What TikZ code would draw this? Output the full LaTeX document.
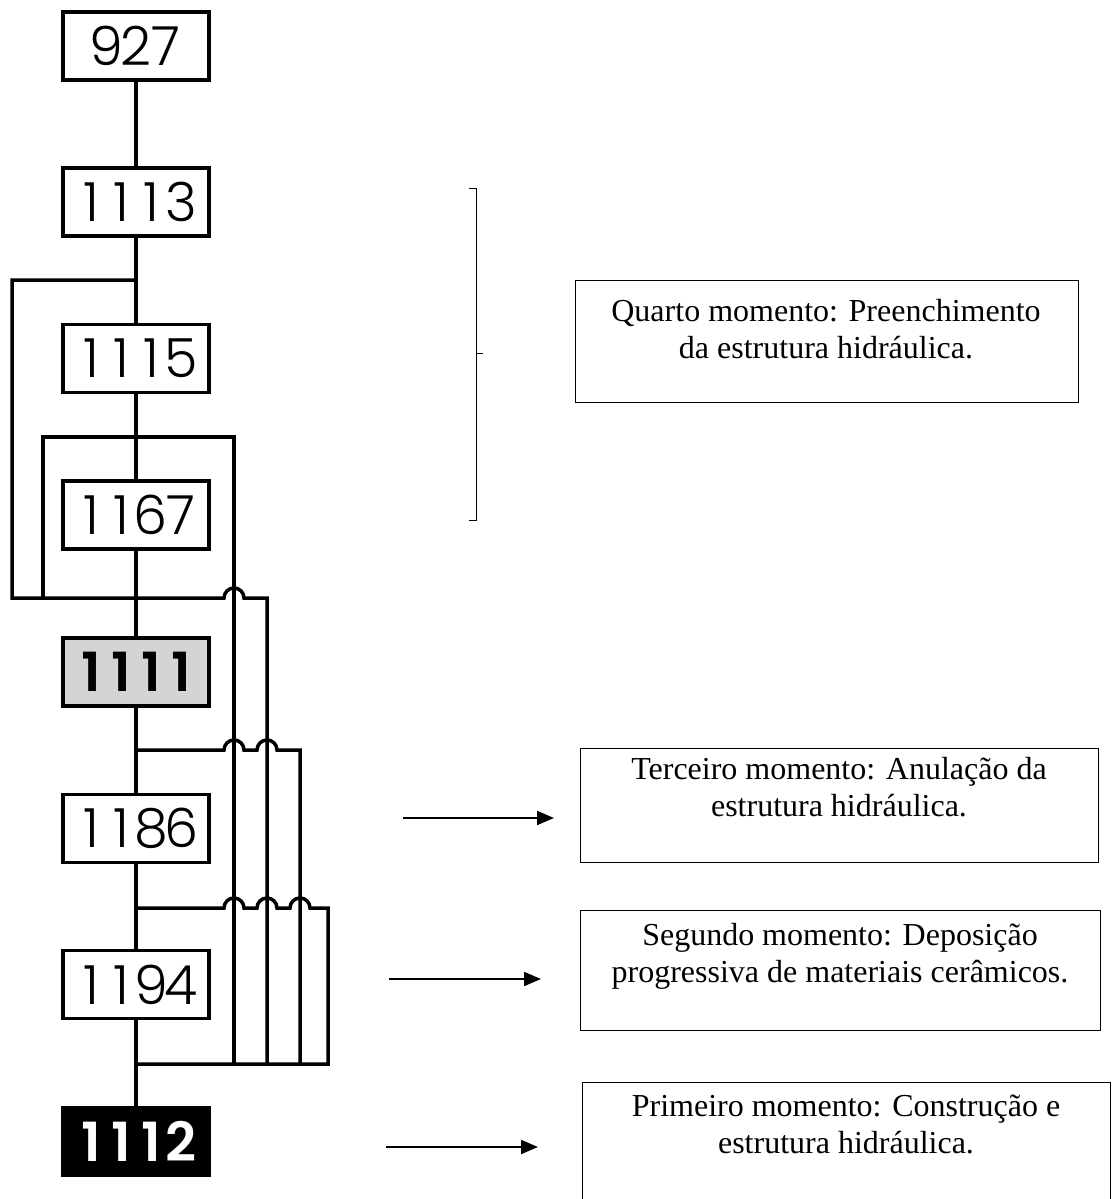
\documentclass[tikz,border=0pt]{standalone}
\usepackage{fontspec}
\setmainfont{Liberation Serif}
\newfontfamily\numfont{Poppins}[UprightFont=* Light, BoldFont=* SemiBold]
\usetikzlibrary{arrows.meta,calc,positioning}

% algarismos com largura fixa
\makeatletter
\newcommand\algs[1]{\@tfor\alg:=#1\do{\makebox[30pt]{\alg}}}
\makeatother

\tikzset{
  ue/.style={draw, line width=3.4pt, minimum width=146pt, minimum height=68pt,
    inner sep=0pt, font=\numfont\fontsize{54}{54}\selectfont},
  uecinza/.style={ue, fill=black!17, font=\numfont\bfseries\fontsize{54}{54}\selectfont},
  uepreta/.style={ue, fill=black, text=white, font=\numfont\bfseries\fontsize{54}{54}\selectfont},
  liga/.style={line width=3.5pt},
  caixa/.style={draw, line width=1.3pt, inner sep=0pt, anchor=north west},
  texto/.style={align=center, inner sep=0pt, anchor=north, font=\fontsize{32}{37}\selectfont},
  seta/.style={-{Triangle[length=17pt,width=14pt]}, line width=2pt}
}

\begin{document}
\begin{tikzpicture}[x=1pt,y=-1pt]
  \useasboundingbox (0,0) rectangle (1112,1199);
  \clip (0,0) rectangle (1112,1199);
  % sequencia estratigrafica
  \node[ue] (u927) at (136,46) {\algs{927}};
  \node[ue] (u1113) at (136,202) {\algs{1113}};
  \node[ue] (u1115) at (136,358.5) {\algs{1115}};
  \node[ue] (u1167) at (136,515) {\algs{1167}};
  \node[uecinza] (u1111) at (136,672) {\algs{1111}};
  \node[ue] (u1186) at (136,828.5) {\algs{1186}};
  \node[ue] (u1194) at (136,984.5) {\algs{1194}};
  \node[uepreta] (u1112) at (136,1141.5) {\algs{1112}};
  \foreach \a/\b in {u927/u1113,u1113/u1115,u1115/u1167,u1167/u1111,u1111/u1186,u1186/u1194,u1194/u1112}
    \draw[liga] (\a) -- (\b);

  % ramos
  \coordinate (r1) at (136,280);
  \coordinate (r3) at (136,598);
  \coordinate (r4) at (136,750);
  \coordinate (r5) at (136,908);
  \coordinate (r6) at (136,1064);
  \draw[liga] (r1) -| (12,598) -- (224,598) arc[start angle=180,end angle=0,radius=10pt]
    -- (267,598) -- (267,1064);
  \draw[liga] (43,598) |- (234,437) -- (234,1064);
  \draw[liga] (r4) -- (224,750) arc[start angle=180,end angle=0,radius=10pt]
    -- (257,750) arc[start angle=180,end angle=0,radius=10pt] -- (300,750) -- (300,1064);
  \draw[liga] (r5) -- (224,908) arc[start angle=180,end angle=0,radius=10pt]
    -- (257,908) arc[start angle=180,end angle=0,radius=10pt]
    -- (290,908) arc[start angle=180,end angle=0,radius=10pt] -- (328,908) |- (r6);

  % chaveta
  \draw[line width=1pt] (469,188) -- (476,188) -- (476,520) -- (469,520) (476,353) -- (483,353);

  % momentos
  \node[caixa, minimum width=503pt, minimum height=122pt] (m4) at (575,280) {};
  \node[texto] (t4) at (826,299) {Quarto momento: Preenchimento\\da estrutura hidráulica.};
  \node[caixa, minimum width=518pt, minimum height=114pt] (m3) at (580,748) {};
  \node[texto] (t3) at (839,757) {Terceiro momento: Anulação da\\estrutura hidráulica.};
  \node[caixa, minimum width=520pt, minimum height=120pt] (m2) at (580,910) {};
  \node[texto] (t2) at (840,923) {Segundo momento: Deposição\\progressiva de materiais cerâmicos.};
  \node[caixa, minimum width=528pt, minimum height=140pt] (m1) at (582,1082) {};
  \node[texto] (t1) at (846,1095) {Primeiro momento: Construção e\\estrutura hidráulica.};

  \coordinate (s3a) at (403,818);
  \coordinate (s3b) at (554,818);
  \coordinate (s2a) at (389,979);
  \coordinate (s2b) at (541,979);
  \coordinate (s1a) at (386,1147);
  \coordinate (s1b) at (538,1147);
  \draw[seta] (s3a) -- (s3b);
  \draw[seta] (s2a) -- (s2b);
  \draw[seta] (s1a) -- (s1b);
\end{tikzpicture}
\end{document}
